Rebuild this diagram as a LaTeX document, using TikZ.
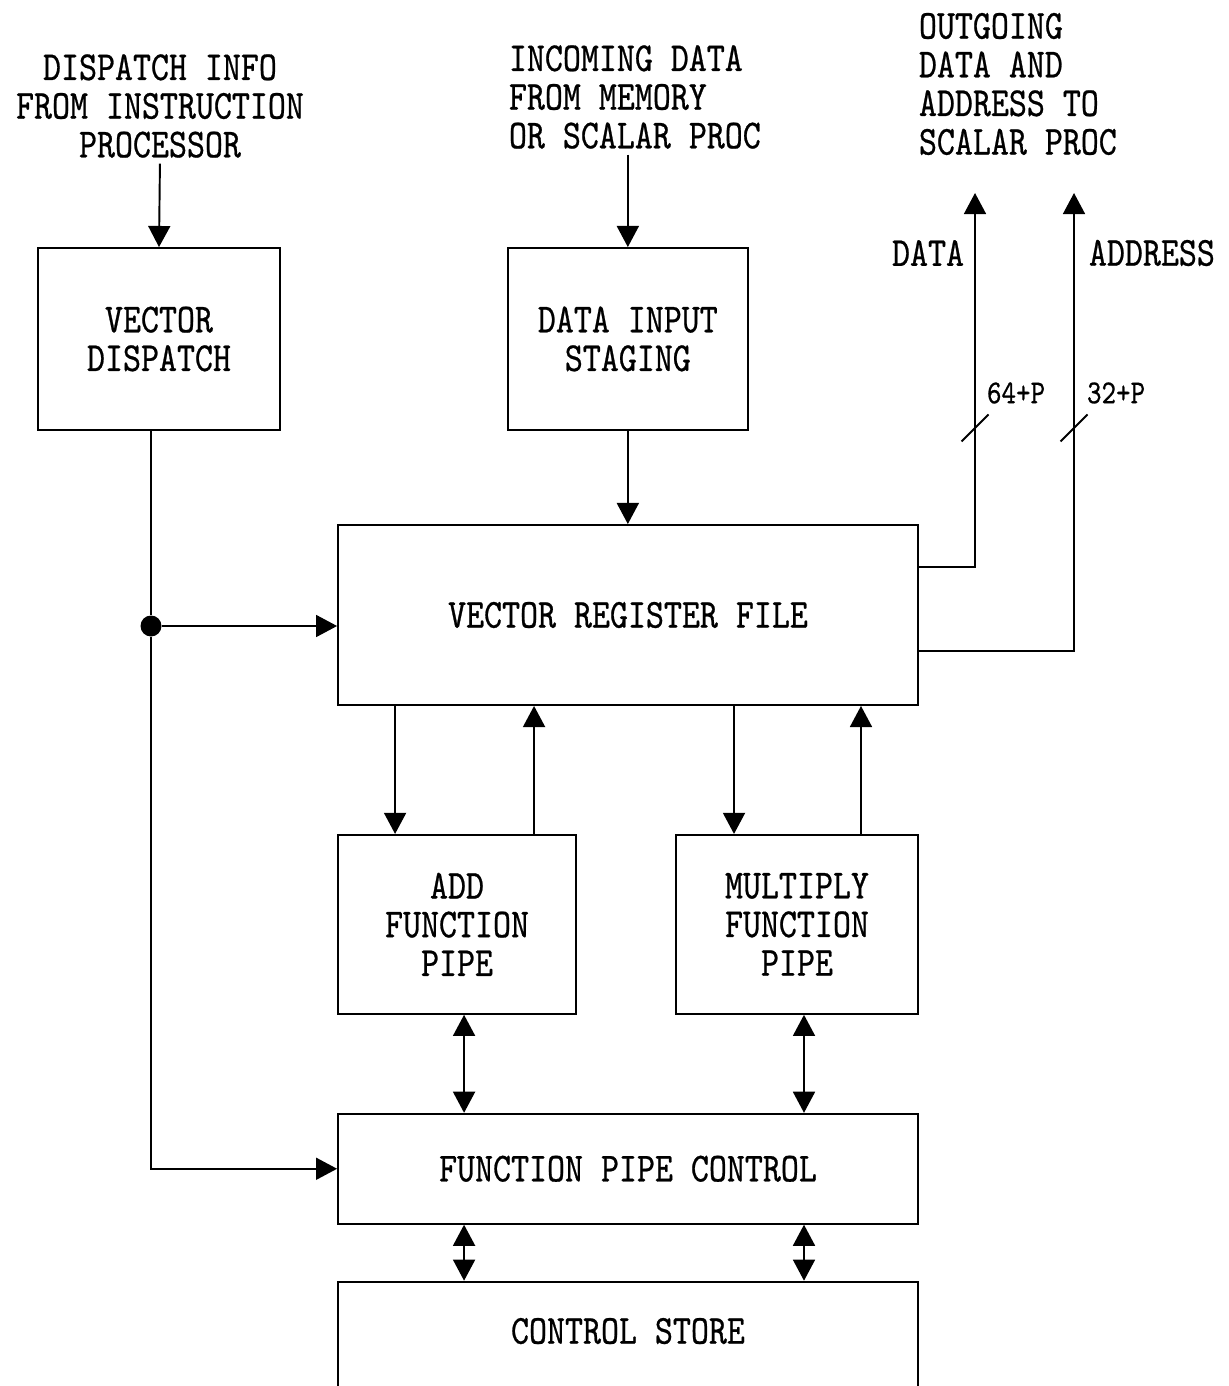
\documentclass[tikz,border=0pt]{standalone}
\usepackage{fontspec}
\newfontfamily\vfont{lmmono10-regular}[Extension=.otf,FakeStretch=0.83,FakeBold=0.6]
\usetikzlibrary{arrows.meta,positioning}

\begin{document}
\begin{tikzpicture}[x=0.02cm,y=-0.02cm,line width=1.1pt,
 >={Triangle[length=12pt,width=12.5pt]},
 font=\vfont\fontsize{23.5}{22}\selectfont,
 blk/.style={draw,align=center,inner sep=0pt},
 txt/.style={align=center,inner sep=0pt},
 busw/.style={inner sep=0pt,font=\vfont\fontsize{19}{19}\selectfont}]
 \useasboundingbox (0,0) rectangle (1229,1386);
 % blocks
 \node[blk,minimum width=4.84cm,minimum height=3.64cm] (vd) at (159,339) {VECTOR\\DISPATCH};
 \node[blk,right=4.52cm of vd,minimum width=4.8cm,minimum height=3.64cm] (dis) {DATA INPUT\\STAGING};
 \node[blk,minimum width=11.6cm,minimum height=3.6cm] (vrf) at (628,615) {VECTOR REGISTER FILE};
 \node[blk,below=2.56cm of vrf.south west,anchor=north west,minimum width=4.76cm,minimum height=3.58cm] (add) {ADD\\FUNCTION\\PIPE};
 \node[blk,below=2.56cm of vrf.south east,anchor=north east,minimum width=4.84cm,minimum height=3.58cm] (mul) {MULTIPLY\\FUNCTION\\PIPE};
 \node[blk,below=1.96cm of add.south west,anchor=north west,minimum width=11.6cm,minimum height=2.2cm] (fpc) {FUNCTION PIPE CONTROL};
 \node[blk,below=1.12cm of fpc,minimum width=11.6cm,text height=0.5cm,text depth=3cm,inner ysep=0.74cm] (cs) {CONTROL STORE};
 % outside texts
 \node[txt] (dinfo) at (160,106) {DISPATCH INFO\\FROM INSTRUCTION\\PROCESSOR};
 \node[txt,align=left,anchor=west] (indata) at (508,97) {INCOMING DATA\\FROM MEMORY\\OR SCALAR PROC};
 \node[txt,align=left,anchor=west] (outdata) at (918,84) {OUTGOING\\DATA AND\\ADDRESS TO\\SCALAR PROC};
 \node[txt,anchor=east] (dlab) at (965,253) {DATA};
 \node[txt,anchor=west] (alab) at (1088,253) {ADDRESS};
 % inputs
 \draw[->,shorten <=0.1cm] (dinfo.south) -- (vd.north);
 \draw[->,shorten <=0.1cm] (indata.south -| dis.north) -- (dis.north);
 \draw[->] (dis.south) -- (dis.south |- vrf.north);
 % dispatch bus
 \coordinate (vdout) at ([xshift=-0.16cm]vd.south);
 \coordinate (vrfin) at ([yshift=-0.22cm]vrf.west);
 \node[circle,fill,inner sep=0pt,minimum size=0.42cm] (jn) at (vdout |- vrfin) {};
 \draw (vdout) -- (jn);
 \draw[->] (jn) |- (fpc.west);
 \draw[->] (jn) -- (vrfin);
 % outgoing data and address
 \coordinate (dtop) at (975,193);
 \coordinate (atop) at (1074,193);
 \draw[->] ([yshift=0.96cm]vrf.east) -| (dtop);
 \draw[->] ([yshift=-0.72cm]vrf.east) -| (atop);
 \coordinate (dsl) at (975,428);
 \coordinate (asl) at (1074,428);
 \draw (dsl) ++(-13.5,13.5) -- ++(27,-27);
 \draw (asl) ++(-13.5,13.5) -- ++(27,-27);
 \node[busw,anchor=west] (dw) at (986,393) {64+P};
 \node[busw,anchor=west] (aw) at (1086,393) {32+P};
 % register file <-> pipes
 \coordinate (a1) at ([xshift=1.16cm]add.north west);
 \coordinate (a2) at ([xshift=3.94cm]add.north west);
 \coordinate (m1) at ([xshift=1.18cm]mul.north west);
 \coordinate (m2) at ([xshift=3.72cm]mul.north west);
 \draw[->] (a1 |- vrf.south) -- (a1);
 \draw[->] (a2) -- (a2 |- vrf.south);
 \draw[->] (m1 |- vrf.south) -- (m1);
 \draw[->] (m2) -- (m2 |- vrf.south);
 % pipes <-> control <-> store
 \coordinate (a3) at ([xshift=2.54cm]add.south west);
 \coordinate (m3) at ([xshift=2.58cm]mul.south west);
 \foreach \c in {a3,m3} {
  \draw[<->] (\c) -- (\c |- fpc.north);
  \draw[<->] (\c |- fpc.south) -- (\c |- cs.north);
 }
\end{tikzpicture}
\end{document}
